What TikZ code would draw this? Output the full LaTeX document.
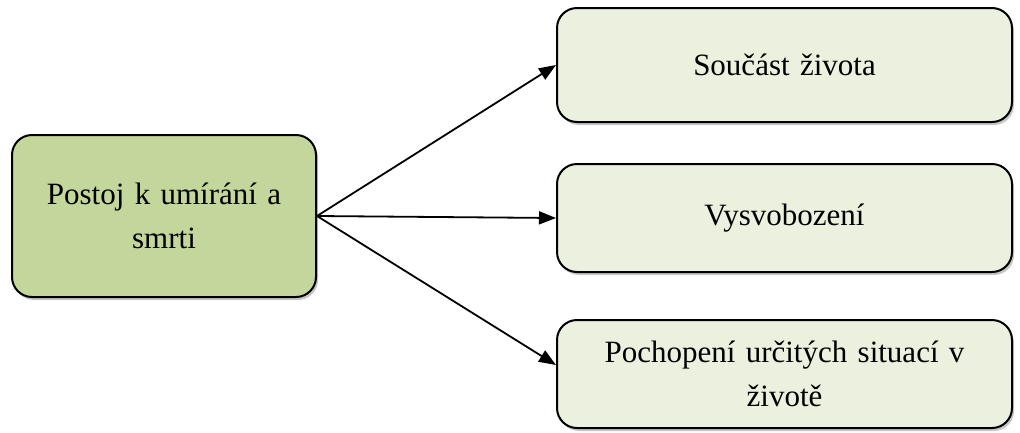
\documentclass[tikz,border=0pt]{standalone}
\usepackage{fontspec}
\setmainfont{Liberation Serif}
\usetikzlibrary{arrows.meta,shadows}
\definecolor{darkgreen}{RGB}{195,214,155}
\definecolor{palegreen}{RGB}{235,241,222}

\begin{document}
\begin{tikzpicture}[x=1pt,y=-1pt,
  box/.style={draw,line width=2pt,rounded corners=20pt,
    font=\fontsize{31}{44}\selectfont,execute at begin node=\centering,
    drop shadow={shadow xshift=2pt,shadow yshift=-3pt,opacity=0.45}},
  arr/.style={line width=1.8pt,-{Triangle[length=17pt,width=13pt]}}]
  \useasboundingbox (0,0) rectangle (1020,432);

  %main box
  \node[box,fill=darkgreen,minimum width=304pt,minimum height=162pt,text width=270pt]
    (postoj) at (164,216) {Postoj k umírání a\\smrti};

  %three outcomes
  \node[box,fill=palegreen,minimum width=455pt,minimum height=114pt,text width=420pt]
    (soucast) at (784.5,65) {Součást života};
  \node[box,fill=palegreen,minimum width=455pt,minimum height=108pt,text width=420pt]
    (vysvob) at (784.5,218) {Vysvobození};
  \node[box,fill=palegreen,minimum width=455pt,minimum height=108pt,text width=420pt]
    (pochop) at (784.5,374) {Pochopení určitých situací v\\životě};

  %arrows
  \draw[arr] (postoj.east) -- (soucast.west);
  \draw[arr] (postoj.east) -- (vysvob.west);
  \draw[arr] (postoj.east) -- ([yshift=9pt]pochop.west);
\end{tikzpicture}
\end{document}
